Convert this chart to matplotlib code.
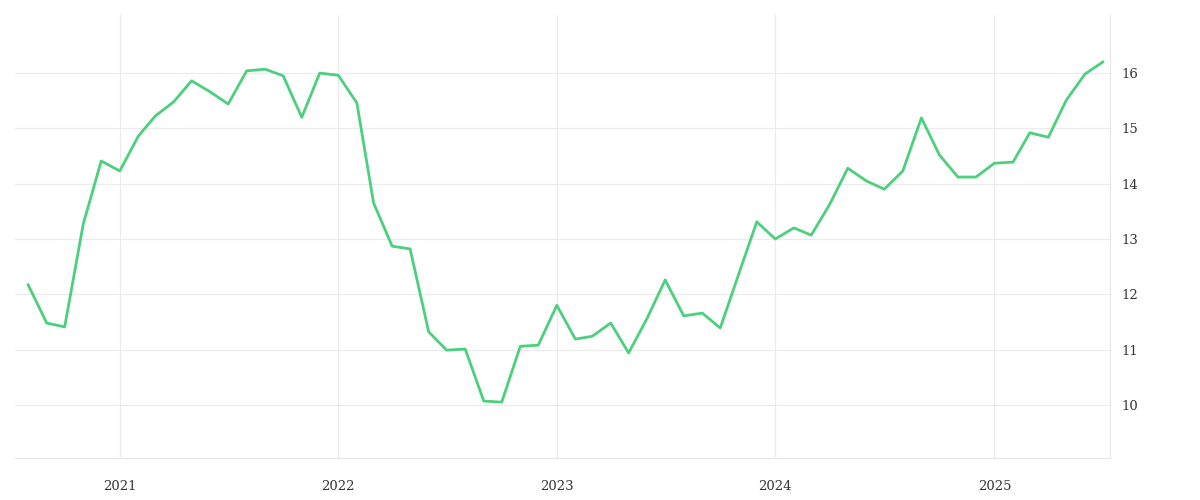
import matplotlib
matplotlib.use("Agg")
import matplotlib.pyplot as plt
import matplotlib.dates as mdates
import pandas as pd

start_month = "2020-08-01"
values = [12.17, 11.48, 11.41, 13.27, 14.41, 14.23, 14.86, 15.22, 15.48, 15.86,
          15.66, 15.44, 16.04, 16.07, 15.95, 15.20, 16.00, 15.96, 15.46, 13.65,
          12.87, 12.82, 11.32, 10.99, 11.01, 10.07, 10.05, 11.06, 11.08, 11.80,
          11.19, 11.24, 11.48, 10.94, 11.57, 12.26, 11.61, 11.66, 11.39, 12.37,
          13.31, 13.00, 13.20, 13.07, 13.63, 14.28, 14.05, 13.90, 14.23, 15.19,
          14.52, 14.12, 14.12, 14.37, 14.39, 14.92, 14.84, 15.51, 15.98, 16.20]
dates = pd.date_range(start_month, periods=len(values), freq="MS")
y_ticks = [10, 11, 12, 13, 14, 15, 16]

plt.rcParams['font.family'] = ['DejaVu Serif']
fig = plt.figure(figsize=(12, 5), dpi=100)
ax = fig.add_axes([0.0125, 0.084, 0.9125, 0.886])
ax.plot(dates, values, color="#4cd07d", lw=2.0)

ax.set_ylim(9.04, 17.05)
ax.set_xlim(pd.Timestamp("2020-07-10"), pd.Timestamp("2025-07-13"))
ax.yaxis.tick_right()
ax.set_yticks(y_ticks)
ax.xaxis.set_major_locator(mdates.YearLocator())
ax.xaxis.set_major_formatter(mdates.DateFormatter("%Y"))
ax.grid(True, color="#ebebeb", lw=0.8)
ax.tick_params(length=0, labelsize=9.5, colors="#333333")
ax.tick_params(axis="x", pad=16)
ax.tick_params(axis="y", pad=8)
for s in ax.spines.values():
    s.set_visible(False)
ax.spines["right"].set_visible(True)
ax.spines["right"].set_color("#e6e6e6")
ax.spines["bottom"].set_visible(True)
ax.spines["bottom"].set_color("#e6e6e6")

fig.savefig("out.png")
